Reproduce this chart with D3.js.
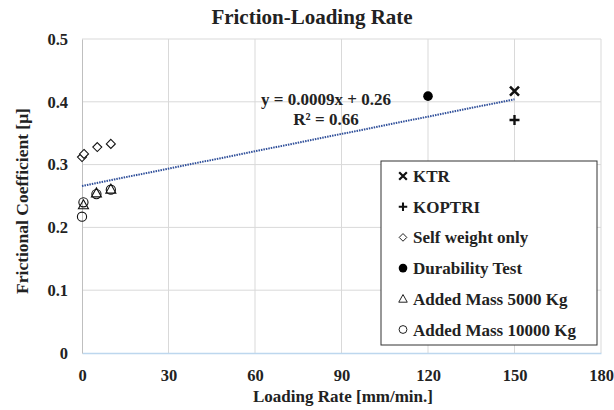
<!DOCTYPE html>
<html><head><meta charset="utf-8">
<script src="https://cdn.jsdelivr.net/npm/d3@7"></script>
<style>body{margin:0;background:#fff}text{font-family:"Liberation Serif","Times New Roman",serif;font-weight:bold;fill:#222}</style>
</head><body>
<script>
const xTicks = [0, 30, 60, 90, 120, 150, 180];
const yTicks = [0, 0.1, 0.2, 0.3, 0.4, 0.5];
const seriesNames = ["KTR", "KOPTRI", "Self weight only", "Durability Test", "Added Mass 5000 Kg", "Added Mass 10000 Kg"];
const ktr = [[150, 0.417]];
const koptri = [[150, 0.371]];
const selfWeight = [[0, 0.312], [0.7, 0.317], [5.3, 0.328], [10, 0.333]];
const durability = [[120, 0.409]];
const mass5000 = [[0.5, 0.236], [5, 0.255], [10, 0.261]];
const mass10000 = [[0, 0.217], [0.5, 0.240], [5, 0.253], [10, 0.260]];
const trendLine = [[0, 0.266], [150, 0.404]];
const trendLabel = ["y = 0.0009x + 0.26", "R² = 0.66"];

const W = 614, H = 410;
const m = {l: 82, r: 13, t: 39, b: 57};
const svg = d3.select("body").append("svg").attr("width", W).attr("height", H);
const x = d3.scaleLinear().domain([0, 180]).range([m.l, W - m.r]);
const y = d3.scaleLinear().domain([0, 0.5]).range([H - m.b, m.t]);

// grid
svg.append("g").selectAll("line").data(xTicks.slice(1)).join("line")
  .attr("x1", d => x(d)).attr("x2", d => x(d)).attr("y1", y(0)).attr("y2", y(0.5))
  .attr("stroke", "#d9d9d9");
svg.append("g").selectAll("line").data(yTicks.slice(1)).join("line")
  .attr("x1", x(0)).attr("x2", x(180)).attr("y1", d => y(d)).attr("y2", d => y(d))
  .attr("stroke", "#d9d9d9");

// axes
const ax = svg.append("g").attr("transform", `translate(0,${y(0)})`)
  .call(d3.axisBottom(x).tickValues(xTicks).tickSize(0).tickPadding(16).tickFormat(d3.format("d")));
ax.select(".domain").attr("stroke", "#bdd7ee").attr("stroke-width", 1.5);
ax.selectAll("text").attr("font-size", 16.5).style("font-family", '"Liberation Serif",serif').style("font-weight", "bold").attr("fill", "#222");
const ay = svg.append("g").attr("transform", `translate(${x(0)},0)`)
  .call(d3.axisLeft(y).tickValues(yTicks).tickSize(0).tickPadding(14).tickFormat(d => d === 0 ? "0" : d3.format(".1f")(d)));
ay.select(".domain").attr("stroke", "#bfbfbf");
ay.selectAll("text").attr("font-size", 16.5).style("font-family", '"Liberation Serif",serif').style("font-weight", "bold").attr("fill", "#222");

// trend
svg.append("path").datum(trendLine)
  .attr("d", d3.line().x(d => x(d[0])).y(d => y(d[1])))
  .attr("fill", "none").attr("stroke", "#2f4f9a").attr("stroke-width", 2).attr("stroke-dasharray", "1.5,1");

// markers
function drawMarker(g, type) {
  if (type === "x") {
    g.append("path").attr("d", "M-4.5,-4.5L4.5,4.5M-4.5,4.5L4.5,-4.5").attr("stroke", "#111").attr("stroke-width", 2.6);
  } else if (type === "plus") {
    g.append("path").attr("d", "M-5,0L5,0M0,-5L0,5").attr("stroke", "#111").attr("stroke-width", 2.4);
  } else if (type === "diamond") {
    g.append("path").attr("d", "M0,-4.5L4.5,0L0,4.5L-4.5,0Z").attr("fill", "#fff").attr("stroke", "#111").attr("stroke-width", 1.1);
  } else if (type === "dot") {
    g.append("circle").attr("r", 4.8).attr("fill", "#000");
  } else if (type === "tri") {
    g.append("path").attr("d", "M0,-5L5,4L-5,4Z").attr("fill", "none").attr("stroke", "#111").attr("stroke-width", 1.1);
  } else if (type === "circle") {
    g.append("circle").attr("r", 4.6).attr("fill", "none").attr("stroke", "#111").attr("stroke-width", 1.1);
  }
}
const series = [
  {data: mass10000, type: "circle"},
  {data: mass5000, type: "tri"},
  {data: selfWeight, type: "diamond"},
  {data: durability, type: "dot"},
  {data: koptri, type: "plus"},
  {data: ktr, type: "x"}
];
series.forEach(s => {
  s.data.forEach(p => {
    const g = svg.append("g").attr("transform", `translate(${x(p[0])},${y(p[1])})`);
    drawMarker(g, s.type);
  });
});

// trend label
svg.append("text").attr("x", 326).attr("y", 105).attr("text-anchor", "middle").attr("font-size", 17).text(trendLabel[0]);
svg.append("text").attr("x", 326).attr("y", 125).attr("text-anchor", "middle").attr("font-size", 17).text(trendLabel[1]);

// legend
const lg = svg.append("g");
lg.append("rect").attr("x", 381).attr("y", 161).attr("width", 216).attr("height", 184)
  .attr("fill", "#fff").attr("stroke", "#333").attr("stroke-width", 1);
const legendTypes = ["x", "plus", "diamond", "dot", "tri", "circle"];
seriesNames.forEach((n, i) => {
  const cy = 176 + i * 30.7;
  const mg = lg.append("g").attr("transform", `translate(403,${cy}) scale(${i === 3 ? 0.9 : 0.85})`);
  drawMarker(mg, legendTypes[i]);
  lg.append("text").attr("x", 413).attr("y", cy + 6).attr("font-size", 17).text(n);
});

// titles
svg.append("text").attr("x", 312).attr("y", 24).attr("text-anchor", "middle").attr("font-size", 21).text("Friction-Loading Rate");
svg.append("text").attr("x", 343).attr("y", 402).attr("text-anchor", "middle").attr("font-size", 17).text("Loading Rate [mm/min.]");
svg.append("text").attr("transform", `translate(28,201) rotate(-90)`).attr("text-anchor", "middle").attr("font-size", 17.5).text("Frictional Coefficient [μ]");
</script>
</body></html>
